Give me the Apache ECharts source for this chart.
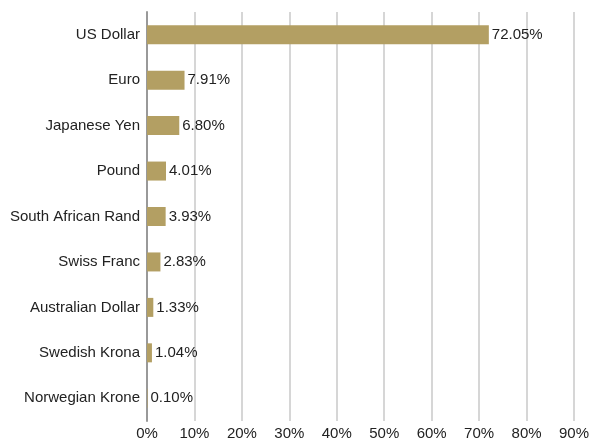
<!DOCTYPE html>
<html>
<head>
<meta charset="utf-8">
<script src="https://cdn.jsdelivr.net/npm/echarts@6/dist/echarts.min.js"></script>
<style>
  html, body { margin: 0; padding: 0; background: #fff; }
  #chart { width: 590px; height: 441px; }
</style>
</head>
<body>
<div id="chart"></div>
<script>
const currencies = ['US Dollar', 'Euro', 'Japanese Yen', 'Pound', 'South African Rand',
  'Swiss Franc', 'Australian Dollar', 'Swedish Krona', 'Norwegian Krone']
const shares = [72.05, 7.91, 6.80, 4.01, 3.93, 2.83, 1.33, 1.04, 0.10]

const chart = echarts.init(document.getElementById('chart'))

chart.setOption({
  animation: false,
  textStyle: { fontFamily: 'Liberation Sans, Arial, sans-serif' },
  grid: { left: 147, right: 16, top: 12, bottom: 20, containLabel: false, outerBoundsMode: 'none' },
  xAxis: {
    type: 'value',
    min: 0,
    max: 90,
    interval: 10,
    axisLabel: {
      formatter: '{value}%',
      color: '#222',
      fontSize: 15,
      margin: 5
    },
    axisLine: { show: false },
    axisTick: { show: false },
    splitLine: { lineStyle: { color: '#c8c8c8', width: 1.5 } }
  },
  yAxis: {
    type: 'category',
    inverse: true,
    data: currencies,
    axisLabel: { color: '#222', fontSize: 15, margin: 7 },
    axisTick: { show: false },
    axisLine: { show: true, lineStyle: { color: '#999', width: 2 } }
  },
  series: [{
    type: 'bar',
    data: shares,
    barWidth: 19,
    itemStyle: { color: '#b39f63' },
    label: {
      show: true,
      position: 'right',
      distance: 3,
      color: '#222',
      fontSize: 15,
      formatter: p => p.value.toFixed(2) + '%'
    },
    z: 1
  }]
})
</script>
</body>
</html>
